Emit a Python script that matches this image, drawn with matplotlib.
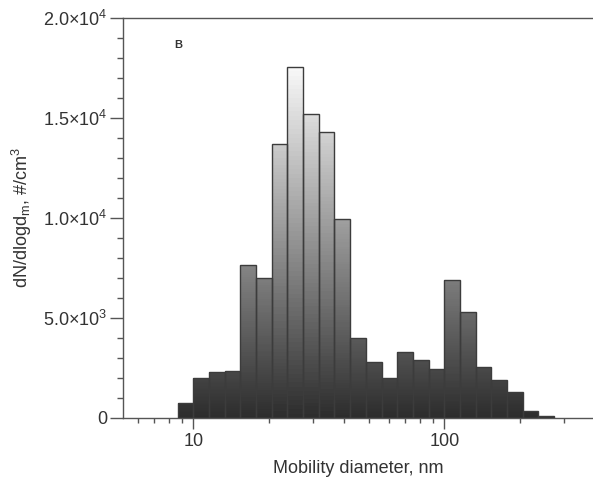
import numpy as np
import matplotlib
matplotlib.use("Agg")
import matplotlib.pyplot as plt
from matplotlib.colors import LinearSegmentedColormap, Normalize
from matplotlib.ticker import FixedLocator, FuncFormatter, LogLocator, NullFormatter

plt.rcParams['font.family'] = ['Liberation Sans', 'DejaVu Sans']
plt.rcParams['mathtext.fontset'] = 'custom'
plt.rcParams['mathtext.rm'] = 'Liberation Sans'
plt.rcParams['mathtext.it'] = 'Liberation Sans'

# SMPS channel edges (nm) and dN/dlogdm values (#/cm3)
bin_edges_nm = [8.660, 10.000, 11.548, 13.335, 15.399, 17.783, 20.535, 23.714,
                27.384, 31.623, 36.517, 42.170, 48.697, 56.234, 64.938, 74.989,
                86.596, 100.00, 115.48, 133.35, 153.99, 177.83, 205.35, 237.14,
                273.84]
dNdlogdm = [750, 2000, 2300, 2350, 7650, 7000, 13700, 17550, 15200, 14300,
            9950, 4000, 2800, 2000, 3300, 2900, 2450, 6900, 5300, 2550,
            1900, 1300, 350, 100]
y_ticks = [0, 5000, 10000, 15000, 20000]
y_tick_labels = ['0', '5.0×10$^{3}$', '1.0×10$^{4}$', '1.5×10$^{4}$', '2.0×10$^{4}$']
x_ticks = [10, 100]
x_tick_labels = ['10', '100']

W, H = 593, 482
fig = plt.figure(figsize=(W / 100, H / 100), dpi=100)
ax = fig.add_axes([123 / W, 1 - 418 / H, 1 - 123 / W, (418 - 18) / H])
ax.set_xscale('log')
ax.set_xlim(5.25, 391)
ax.set_ylim(0, 20000)

cmap = LinearSegmentedColormap.from_list('g', ['#2c2c2c', '#fbfbfb'])
norm = Normalize(0, 17800)
edges = np.array(bin_edges_nm)
for i, v in enumerate(dNdlogdm):
    ys = np.linspace(0, v, 80)
    C = ((ys[:-1] + ys[1:]) / 2)[:, None]
    ax.pcolormesh([edges[i], edges[i + 1]], ys, C, cmap=cmap, norm=norm,
                  shading='flat', zorder=2)
ax.bar(edges[:-1], dNdlogdm, width=np.diff(edges), align='edge', fill=False,
       edgecolor='#3c3c3c', linewidth=1.0, zorder=3)

spine_c = '#555555'
ax.spines['right'].set_visible(False)
for s in ['left', 'top', 'bottom']:
    ax.spines[s].set_color(spine_c)
    ax.spines[s].set_linewidth(1.0)

ax.yaxis.set_major_locator(FixedLocator(y_ticks))
ax.yaxis.set_major_formatter(FuncFormatter(
    lambda v, p: y_tick_labels[y_ticks.index(int(round(v)))] if int(round(v)) in y_ticks else ''))
ax.yaxis.set_minor_locator(FixedLocator(np.arange(0, 20001, 1000)))
ax.xaxis.set_major_locator(FixedLocator(x_ticks))
ax.set_xticklabels(x_tick_labels)
ax.xaxis.set_minor_locator(LogLocator(base=10, subs=np.arange(2, 10)))
ax.xaxis.set_minor_formatter(NullFormatter())

ax.tick_params(axis='y', which='major', direction='out', length=9.5, width=1.0,
               color=spine_c, labelsize=13, labelcolor='#333333', pad=2)
ax.tick_params(axis='y', which='minor', direction='out', length=4.3, width=1.0,
               color=spine_c)
ax.tick_params(axis='x', which='major', direction='out', length=8, width=1.0,
               color=spine_c, labelsize=13, labelcolor='#333333', pad=3)
ax.tick_params(axis='x', which='minor', direction='out', length=3.8, width=1.0,
               color=spine_c)

ax.set_xlabel('Mobility diameter, nm', fontsize=13, color='#333333', labelpad=7)
ax.set_ylabel('dN/dlogd$_{m}$, #/cm$^{3}$', fontsize=13, color='#333333', labelpad=6)
ax.text(0.117, 0.933, 'B', transform=ax.transAxes, fontsize=8,
        fontweight='bold', color='#333333', ha='center', va='center')

fig.savefig('out.png', dpi=100)
